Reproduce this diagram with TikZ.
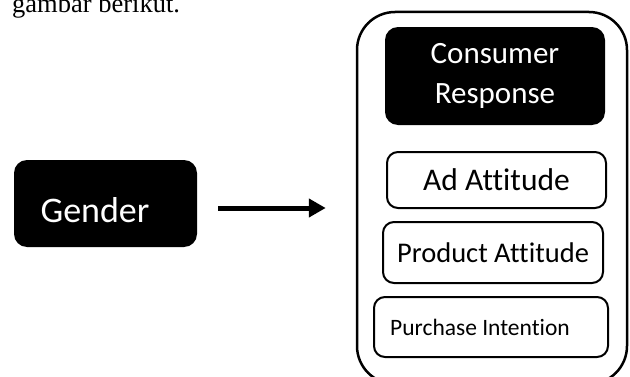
\documentclass[tikz,border=0pt]{standalone}
\usepackage{fontspec}
\setmainfont{Liberation Serif}
\newfontfamily\calibrifont[Ligatures=NoCommon]{Carlito}
\usetikzlibrary{arrows.meta,positioning,calc}

\begin{document}
\begin{tikzpicture}[x=1pt, y=1pt,
    blackbox/.style={fill=black, text=white, rounded corners=13pt, align=center, font=\calibrifont},
    whitebox/.style={draw, line width=2pt, fill=white, rounded corners=11pt, align=center, font=\calibrifont},
    outerbox/.style={draw, line width=2.5pt, rounded corners=38pt},
    arr/.style={-{Triangle[length=17pt, width=18pt]}, line width=5pt}
]
\useasboundingbox (0,0) rectangle (630,376);
\clip (0,0) rectangle (630,376);

% cropped line of the page text above the figure
\node[anchor=base west, inner sep=0pt, font=\fontsize{26.5}{30}\selectfont] (caption) at (12,363) {gambar berikut.};

\node[blackbox, minimum width=183pt, minimum height=87pt, text height=38pt, text depth=0pt,
      font=\calibrifont\fontsize{36}{42}\selectfont] (gender) at (105.5,172.5) {Gender\hspace*{21pt}};

\node[outerbox, minimum width=270pt, minimum height=372pt] (resp) at (492,178) {};
\node[blackbox, minimum width=220pt, minimum height=98pt,
      font=\calibrifont\fontsize{31}{40}\selectfont] (consumer) at (495,300) {Consumer\\Response};
\node[whitebox, minimum width=219pt, minimum height=56pt,
      font=\calibrifont\fontsize{31.5}{36}\selectfont] (ad) at (496.5,196) {Ad Attitude};
\node[whitebox, minimum width=220pt, minimum height=61pt,
      font=\calibrifont\fontsize{28.5}{34}\selectfont] (product) at (493,123.5) {Product Attitude};
\node[whitebox, minimum width=234pt, minimum height=60pt,
      font=\calibrifont\fontsize{23.5}{28}\selectfont] (purchase) at (491,49) {Purchase Intention\hspace*{22pt}};

\draw[arr, shorten <=21pt, shorten >=30pt] ([yshift=-4.5pt]gender.east) -- ([yshift=-4.5pt]gender.east -| resp.west);
\end{tikzpicture}
\end{document}
